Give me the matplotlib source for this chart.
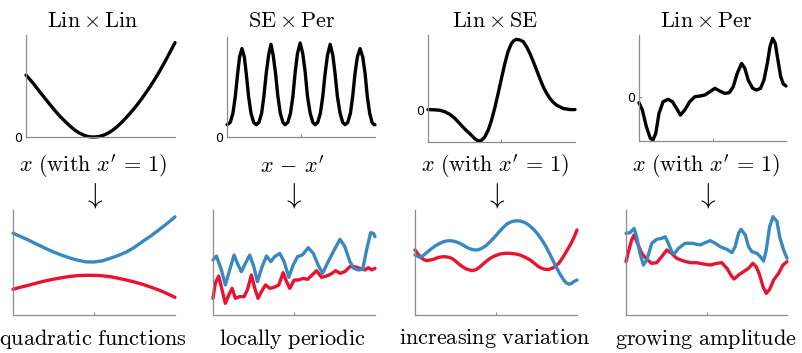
import matplotlib
matplotlib.use("Agg")
import matplotlib.pyplot as plt

plt.rcParams['mathtext.fontset'] = 'cm'

W, H = 802, 353

# ---------------- data ----------------
titles = [r'$\mathrm{Lin}\times\mathrm{Lin}$', r'$\mathrm{SE}\times\mathrm{Per}$',
          r'$\mathrm{Lin}\times\mathrm{SE}$', r'$\mathrm{Lin}\times\mathrm{Per}$']
xlabels = [r"$x\ (\mathrm{with}\ x'\,=\,1)$", r"$x\,-\,x'$",
           r"$x\ (\mathrm{with}\ x'\,=\,1)$", r"$x\ (\mathrm{with}\ x'\,=\,1)$"]
captions = [r'$\mathrm{quadratic\ functions}$', r'$\mathrm{locally\ periodic}$',
            r'$\mathrm{increasing\ variation}$', r'$\mathrm{growing\ amplitude}$']

# kernel curves (top row)
k1_x = [0, 0.025, 0.049, 0.077, 0.105, 0.133, 0.161, 0.189, 0.217, 0.245, 0.273, 0.301,
        0.329, 0.357, 0.385, 0.413, 0.441, 0.469, 0.497, 0.525, 0.553, 0.581, 0.609, 0.636,
        0.664, 0.692, 0.720, 0.748, 0.776, 0.804, 0.832, 0.860, 0.888, 0.916, 0.944, 0.972, 1.0]
k1_y = [0.607, 0.566, 0.525, 0.472, 0.420, 0.369, 0.318, 0.268, 0.220, 0.178, 0.138, 0.100,
        0.066, 0.040, 0.020, 0.006, 0.000, 0.001, 0.007, 0.020, 0.039, 0.066, 0.098, 0.135,
        0.177, 0.222, 0.269, 0.320, 0.374, 0.432, 0.492, 0.556, 0.623, 0.695, 0.770, 0.847, 0.925]

k2_x = [0, 0.022, 0.040, 0.056, 0.072, 0.085, 0.101, 0.117, 0.130, 0.146, 0.162, 0.180,
        0.198, 0.216, 0.234, 0.249, 0.265, 0.281, 0.297, 0.312, 0.328, 0.344, 0.360, 0.378,
        0.393, 0.411, 0.429, 0.445, 0.461, 0.476, 0.494, 0.512, 0.528, 0.544, 0.562, 0.580,
        0.596, 0.613, 0.631, 0.647, 0.663, 0.679, 0.697, 0.715, 0.730, 0.746, 0.764, 0.782,
        0.798, 0.816, 0.834, 0.849, 0.865, 0.881, 0.899, 0.917, 0.933, 0.948, 0.964, 0.980,
        0.994, 1.0]
k2_y = [0.123, 0.146, 0.238, 0.404, 0.636, 0.801, 0.884, 0.801, 0.636, 0.404, 0.238, 0.146,
        0.123, 0.146, 0.238, 0.404, 0.636, 0.818, 0.927, 0.818, 0.636, 0.404, 0.238, 0.146,
        0.123, 0.146, 0.238, 0.404, 0.652, 0.834, 0.940, 0.834, 0.652, 0.404, 0.238, 0.146,
        0.123, 0.146, 0.238, 0.404, 0.636, 0.818, 0.927, 0.818, 0.636, 0.404, 0.238, 0.146,
        0.123, 0.146, 0.238, 0.404, 0.636, 0.801, 0.884, 0.801, 0.636, 0.404, 0.238, 0.146,
        0.123, 0.123]

k3_x = [0.000, 0.040, 0.080, 0.114, 0.148, 0.182, 0.216, 0.250, 0.284, 0.318, 0.341, 0.364,
        0.386, 0.409, 0.432, 0.455, 0.477, 0.500, 0.523, 0.545, 0.568, 0.584, 0.602, 0.625,
        0.648, 0.670, 0.693, 0.716, 0.739, 0.761, 0.784, 0.807, 0.830, 0.852, 0.875, 0.920,
        0.966, 1.000]
k3_y = [0.006, 0.004, 0.000, -0.014, -0.038, -0.075, -0.125, -0.175, -0.219, -0.265, -0.288,
        -0.281, -0.250, -0.188, -0.094, 0.025, 0.156, 0.300, 0.438, 0.550, 0.625, 0.650,
        0.663, 0.656, 0.641, 0.595, 0.531, 0.455, 0.375, 0.295, 0.219, 0.158, 0.109, 0.074,
        0.047, 0.016, 0.006, 0.006]

k4_x = [0.000, 0.023, 0.050, 0.077, 0.095, 0.114, 0.136, 0.164, 0.198, 0.227, 0.255, 0.282,
        0.311, 0.345, 0.380, 0.414, 0.448, 0.482, 0.516, 0.550, 0.584, 0.614, 0.641, 0.668,
        0.698, 0.720, 0.743, 0.773, 0.800, 0.827, 0.850, 0.873, 0.891, 0.909, 0.927, 0.945,
        0.964, 0.982, 1.000]
k4_y = [-0.057, -0.126, -0.283, -0.393, -0.409, -0.346, -0.157, -0.047, -0.025, -0.047,
        -0.110, -0.173, -0.126, -0.047, 0.000, 0.006, 0.016, 0.047, 0.079, 0.053, 0.031, 0.038,
        0.094, 0.220, 0.314, 0.267, 0.157, 0.079, 0.063, 0.079, 0.157, 0.314, 0.472, 0.550,
        0.503, 0.346, 0.189, 0.119, 0.101]

# samples (bottom row)
s1_x = [0, 0.05, 0.1, 0.15, 0.2, 0.25, 0.3, 0.35, 0.4, 0.45, 0.5, 0.55, 0.6, 0.65, 0.7,
        0.75, 0.8, 0.85, 0.9, 0.95, 1.0]
s1_blue = [0.78, 0.745, 0.71, 0.672, 0.635, 0.60, 0.57, 0.543, 0.522, 0.506, 0.505, 0.515,
           0.54, 0.567, 0.60, 0.645, 0.70, 0.752, 0.81, 0.87, 0.935]
s1_red = [0.245, 0.266, 0.285, 0.306, 0.325, 0.341, 0.355, 0.367, 0.375, 0.378, 0.378, 0.373,
          0.365, 0.35, 0.333, 0.314, 0.292, 0.266, 0.238, 0.205, 0.168]

s2_bx = [0.000, 0.021, 0.052, 0.076, 0.103, 0.130, 0.155, 0.175, 0.200, 0.227, 0.252, 0.274,
         0.303, 0.330, 0.357, 0.381, 0.412, 0.439, 0.468, 0.495, 0.522, 0.551, 0.588, 0.619,
         0.649, 0.676, 0.711, 0.748, 0.784, 0.814, 0.845, 0.870, 0.897, 0.924, 0.948, 0.973,
         0.990, 1.000]
s2_by = [0.524, 0.562, 0.429, 0.286, 0.429, 0.571, 0.476, 0.413, 0.492, 0.571, 0.460, 0.317,
         0.460, 0.562, 0.508, 0.556, 0.587, 0.508, 0.359, 0.476, 0.556, 0.571, 0.641, 0.587,
         0.476, 0.397, 0.508, 0.619, 0.721, 0.651, 0.508, 0.444, 0.429, 0.435, 0.619, 0.784,
         0.778, 0.746]
s2_rx = [0.000, 0.014, 0.035, 0.056, 0.076, 0.097, 0.118, 0.138, 0.165, 0.192, 0.212, 0.237,
         0.258, 0.278, 0.299, 0.324, 0.351, 0.377, 0.406, 0.433, 0.454, 0.474, 0.501, 0.526,
         0.557, 0.584, 0.612, 0.639, 0.670, 0.701, 0.728, 0.757, 0.784, 0.814, 0.845, 0.876,
         0.907, 0.938, 0.959, 0.979, 1.000]
s2_ry = [0.159, 0.302, 0.371, 0.238, 0.111, 0.190, 0.254, 0.159, 0.175, 0.175, 0.238, 0.381,
         0.254, 0.159, 0.222, 0.286, 0.254, 0.263, 0.286, 0.403, 0.317, 0.254, 0.333, 0.333,
         0.349, 0.340, 0.381, 0.422, 0.359, 0.371, 0.390, 0.422, 0.397, 0.413, 0.460, 0.460,
         0.444, 0.429, 0.451, 0.429, 0.444]

s3_bx = [0.000, 0.031, 0.052, 0.072, 0.098, 0.124, 0.150, 0.175, 0.196, 0.216, 0.242, 0.268,
         0.294, 0.320, 0.345, 0.371, 0.392, 0.412, 0.438, 0.464, 0.490, 0.515, 0.541, 0.567,
         0.598, 0.629, 0.655, 0.680, 0.706, 0.732, 0.758, 0.784, 0.810, 0.835, 0.856, 0.876,
         0.897, 0.918, 0.933, 0.948, 0.964, 0.979, 1.000]
s3_by = [0.571, 0.549, 0.568, 0.594, 0.627, 0.657, 0.680, 0.698, 0.705, 0.708, 0.702, 0.689,
         0.668, 0.644, 0.627, 0.619, 0.622, 0.635, 0.660, 0.698, 0.740, 0.784, 0.828, 0.867,
         0.890, 0.898, 0.893, 0.879, 0.852, 0.816, 0.770, 0.714, 0.647, 0.571, 0.505, 0.444,
         0.385, 0.333, 0.307, 0.295, 0.298, 0.317, 0.333]
s3_rx = [0.000, 0.031, 0.052, 0.072, 0.113, 0.144, 0.175, 0.201, 0.227, 0.252, 0.278, 0.314,
         0.351, 0.377, 0.402, 0.433, 0.464, 0.495, 0.526, 0.557, 0.588, 0.619, 0.649, 0.680,
         0.711, 0.737, 0.763, 0.784, 0.804, 0.825, 0.845, 0.866, 0.887, 0.907, 0.928, 0.948,
         0.969, 0.985, 1.000]
s3_ry = [0.619, 0.556, 0.530, 0.517, 0.530, 0.548, 0.556, 0.552, 0.540, 0.512, 0.476, 0.440,
         0.422, 0.432, 0.460, 0.503, 0.540, 0.565, 0.581, 0.588, 0.587, 0.582, 0.571, 0.550,
         0.524, 0.492, 0.460, 0.444, 0.435, 0.434, 0.444, 0.462, 0.492, 0.535, 0.587, 0.640,
         0.698, 0.752, 0.810]

s4_bx = [0.000, 0.025, 0.050, 0.066, 0.087, 0.108, 0.129, 0.160, 0.191, 0.222, 0.243, 0.263,
         0.284, 0.299, 0.326, 0.367, 0.409, 0.461, 0.492, 0.523, 0.554, 0.585, 0.627, 0.658,
         0.678, 0.699, 0.714, 0.741, 0.761, 0.782, 0.813, 0.834, 0.855, 0.871, 0.892, 0.913,
         0.938, 0.954, 0.979, 1.000]
s4_by = [0.778, 0.784, 0.825, 0.746, 0.587, 0.476, 0.524, 0.683, 0.721, 0.730, 0.746, 0.683,
         0.603, 0.581, 0.635, 0.683, 0.683, 0.667, 0.689, 0.708, 0.683, 0.651, 0.625, 0.594,
         0.651, 0.778, 0.816, 0.762, 0.651, 0.603, 0.587, 0.556, 0.514, 0.619, 0.841, 0.937,
         0.889, 0.746, 0.619, 0.540]
s4_rx = [0.000, 0.015, 0.035, 0.050, 0.071, 0.098, 0.129, 0.160, 0.191, 0.222, 0.253, 0.284,
         0.315, 0.357, 0.398, 0.440, 0.481, 0.523, 0.564, 0.595, 0.627, 0.658, 0.672, 0.699,
         0.730, 0.761, 0.788, 0.809, 0.830, 0.851, 0.871, 0.892, 0.917, 0.948, 0.975, 1.000]
s4_ry = [0.508, 0.603, 0.714, 0.762, 0.683, 0.587, 0.530, 0.492, 0.498, 0.556, 0.619, 0.587,
         0.540, 0.514, 0.498, 0.498, 0.486, 0.476, 0.492, 0.498, 0.444, 0.365, 0.343, 0.381,
         0.413, 0.444, 0.492, 0.460, 0.381, 0.270, 0.206, 0.244, 0.333, 0.397, 0.476, 0.508]

kernels = [(k1_x, k1_y, (0, 1)), (k2_x, k2_y, (0, 1)),
           (k3_x, k3_y, (-0.297, 0.703)), (k4_x, k4_y, (-0.418, 0.582))]
samples = [((s1_x, s1_red), (s1_x, s1_blue)),
           ((s2_rx, s2_ry), (s2_bx, s2_by)),
           ((s3_rx, s3_ry), (s3_bx, s3_by)),
           ((s4_rx, s4_ry), (s4_bx, s4_by))]

# ---------------- layout ----------------
top_boxes = [(26, 35, 175, 137), (227, 37, 375, 137), (428, 35, 575, 142), (639, 35, 786, 141)]
bot_boxes = [(13, 210, 175, 315), (213, 210, 375, 315), (415, 210, 577, 315), (626, 210, 787, 315)]
centers = [93, 292, 495, 706]

BLUE = '#3a88c0'
RED = '#ea1230'
SPINE = '#8c8c8c'

fig = plt.figure(figsize=(W / 100, H / 100), dpi=100)


def add_ax(box):
    x0, y0, x1, y1 = box
    ax = fig.add_axes([x0 / W, 1 - y1 / H, (x1 - x0) / W, (y1 - y0) / H])
    for s in ('top', 'right'):
        ax.spines[s].set_visible(False)
    for s in ('left', 'bottom'):
        ax.spines[s].set_color(SPINE)
        ax.spines[s].set_linewidth(0.9)
    ax.set_xlim(0, 1)
    ax.set_xticks([0.5])
    ax.set_xticklabels([])
    ax.tick_params(axis='both', direction='in', length=2, width=0.8, color=SPINE)
    ax.patch.set_alpha(0)
    return ax


line_kw = dict(lw=2.4, solid_capstyle='round', solid_joinstyle='round', clip_on=False)

for i in range(4):
    kx, ky, yl = kernels[i]
    ax = add_ax(top_boxes[i])
    ax.plot(kx, ky, color='black', **line_kw)
    ax.set_ylim(*yl)
    ax.set_yticks([0])
    ax.set_yticklabels(['0'], fontsize=9, family='DejaVu Sans')
    ax.tick_params(axis='y', pad=3)

    bx = add_ax(bot_boxes[i])
    (rx, ry), (bxx, byy) = samples[i]
    bx.plot(rx, ry, color=RED, **line_kw)
    bx.plot(bxx, byy, color=BLUE, **line_kw)
    bx.set_ylim(0, 1)
    bx.set_yticks([])

    c = centers[i] / W
    fig.text(c, 1 - 21 / H, titles[i], ha='center', va='center', fontsize=16)
    fig.text(c, 1 - 166 / H, xlabels[i], ha='center', va='center', fontsize=16)
    fig.text(c, 1 - 196 / H, r'$\downarrow$', ha='center', va='center', fontsize=21)
    fig.text(c, 1 - 339 / H, captions[i], ha='center', va='center', fontsize=16)

fig.savefig('out.png', dpi=100)
